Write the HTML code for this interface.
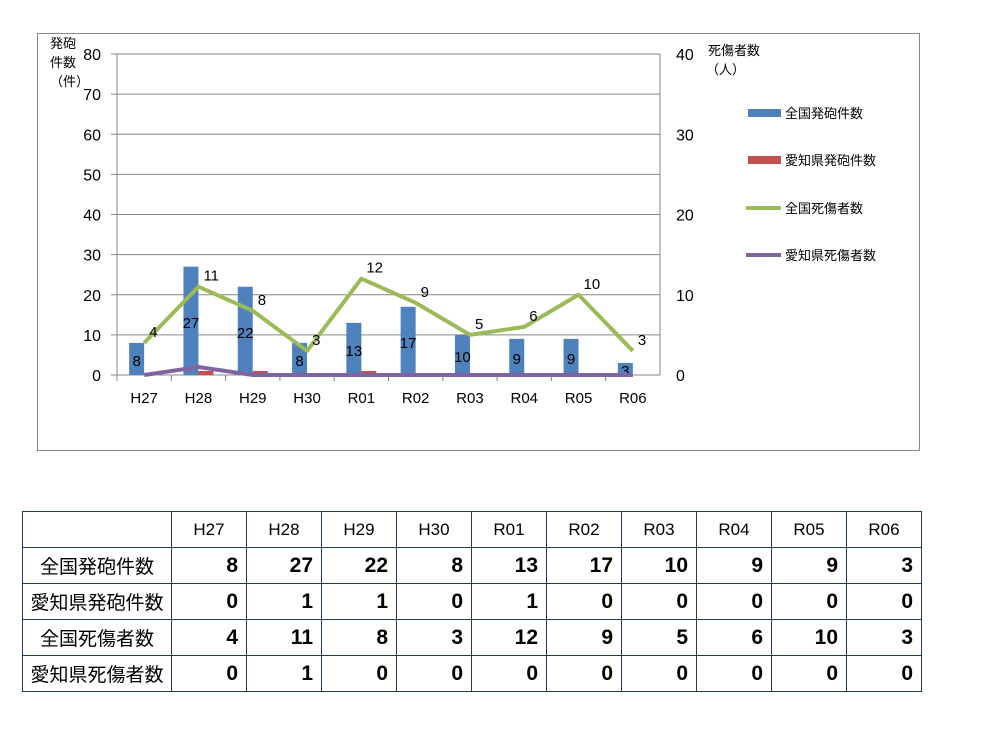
<!DOCTYPE html>
<html><head><meta charset="utf-8"><style>
body{margin:0;width:986px;height:737px;background:#fff;font-family:"Liberation Sans","Noto Sans CJK JP",sans-serif;position:relative;overflow:hidden}
#chart{position:absolute;left:0;top:0}
table{position:absolute;left:22px;top:511px;border-collapse:collapse;font-family:"Liberation Sans","Noto Sans CJK JP",sans-serif}
td{border:1px solid #1f3a5a;height:35px;padding:0 8px;font-size:20px}
td.h{text-align:center;font-size:17px;width:58px}
td.n{text-align:right;font-weight:bold;font-size:21px}
td.l{width:140px;text-align:center;font-size:19px;padding:0 4px}
</style></head><body>
<svg id="chart" width="986" height="500"></svg>
<table id="tbl"></table>
<script>
const categories=["H27","H28","H29","H30","R01","R02","R03","R04","R05","R06"];
const nationalShots=[8,27,22,8,13,17,10,9,9,3];
const aichiShots=[0,1,1,0,1,0,0,0,0,0];
const nationalCasualties=[4,11,8,3,12,9,5,6,10,3];
const aichiCasualties=[0,1,0,0,0,0,0,0,0,0];
const leftTicks=[0,10,20,30,40,50,60,70,80];
const rightTicks=[0,10,20,30,40];
const NS="http://www.w3.org/2000/svg";
const svg=document.getElementById('chart');
function mk(t,a,p){const e=document.createElementNS(NS,t);for(const k in a)e.setAttribute(k,a[k]);(p||svg).appendChild(e);return e;}
const X0=117,X1=660,Y0=375,Y1=54;
const step=(X1-X0)/categories.length;
const xc=i=>X0+step*(i+0.5);
const yl=v=>Y0-(v/80)*(Y0-Y1);
const yr=v=>Y0-(v/40)*(Y0-Y1);
let e=mk('rect',{x:37.5,y:33.5,width:882,height:417,fill:'#fff',stroke:'#888'});

leftTicks.forEach(v=>{
 const g=mk('line',{x1:X0-6,x2:X1,y1:yl(v),y2:yl(v),stroke:'#868686'});
 
 const t=mk('text',{x:101,y:yl(v)+6,'text-anchor':'end','font-size':16,fill:'#000'});t.textContent=v;
 
});
rightTicks.forEach(v=>{
 const t=mk('text',{x:676,y:yr(v)+6,'font-size':16,fill:'#000'});t.textContent=v;
 
});
e=mk('line',{x1:X0,x2:X0,y1:Y1,y2:Y0,stroke:'#868686'});
e=mk('line',{x1:X1,x2:X1,y1:Y1,y2:Y0,stroke:'#868686'});
categories.forEach((c,i)=>{
 const tk=mk('line',{x1:X0+step*i,x2:X0+step*i,y1:Y0,y2:Y0+6,stroke:'#868686'});
 
 const t=mk('text',{x:xc(i),y:403,'text-anchor':'middle','font-size':15});t.textContent=c;
 
});
// axis titles
[['発砲',48],['件数',67],['（件）',86]].forEach(([s,y])=>{const t=mk('text',{x:50,y:y,'font-size':13});t.textContent=s;});
[['死傷者数',55,708],['（人）',74,706]].forEach(([s,y,x])=>{const t=mk('text',{x:x,y:y,'font-size':13});t.textContent=s;});
// bars
const bw=15;
nationalShots.forEach((v,i)=>{
 const b=mk('rect',{x:xc(i)-bw+7-7,y:yl(v),width:bw,height:Y0-yl(v),fill:'#4f81bd'});
 
 const t=mk('text',{x:xc(i)-bw/2,y:(yl(v)+Y0)/2+7,'text-anchor':'middle','font-size':15});t.textContent=v;
 
});
aichiShots.forEach((v,i)=>{
 const b=mk('rect',{x:xc(i),y:yl(v),width:bw,height:Y0-yl(v),fill:'#c0504d'});
 
});
function line(arr,color,name,labels){
 const p=arr.map((v,i)=>xc(i)+','+yr(v)).join(' ');
 const l=mk('polyline',{points:p,fill:'none',stroke:color,'stroke-width':4,'stroke-linejoin':'round'});
 
 if(labels)arr.forEach((v,i)=>{const t=mk('text',{x:xc(i)+5,y:yr(v)-6,'font-size':15});t.textContent=v;
  });
}
line(nationalCasualties,'#9bbb59','line-national-casualties',true);
line(aichiCasualties,'#8064a2','line-aichi-casualties',false);
// legend
[['全国発砲件数','#4f81bd',113,'rect'],['愛知県発砲件数','#c0504d',160,'rect'],['全国死傷者数','#9bbb59',208,'line'],['愛知県死傷者数','#8064a2',255,'line']].forEach(([s,c,y,k])=>{
 const m=k==='rect'?mk('rect',{x:748,y:y-4,width:33,height:8,fill:c}):mk('line',{x1:746,x2:781,y1:y,y2:y,stroke:c,'stroke-width':4});
 
 const t=mk('text',{x:785,y:y+5,'font-size':13});t.textContent=s;
 
});
// table
const tbl=document.getElementById('tbl');
let h='<tr><td class="l"></td>'+categories.map(c=>'<td class="h">'+c+'</td>').join('')+'</tr>';
[['全国発砲件数',nationalShots],['愛知県発砲件数',aichiShots],['全国死傷者数',nationalCasualties],['愛知県死傷者数',aichiCasualties]].forEach(([n,a])=>{
 h+='<tr><td class="l">'+n+'</td>'+a.map(v=>'<td class="n">'+v+'</td>').join('')+'</tr>';
});
tbl.innerHTML=h;
</script>
</body></html>
